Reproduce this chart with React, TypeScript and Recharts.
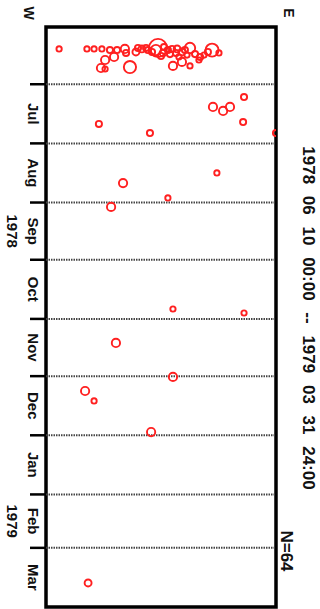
import React from 'react';
import { ScatterChart, Scatter, XAxis, YAxis, ZAxis, ReferenceLine, ReferenceArea } from 'recharts';

// Position across the strip, W (0) to E (100)
const lonIndex = [
  5.7, 17.8, 20.9, 24.3, 27.8, 34.3, 34.8, 39.1, 41.7, 43.5,
  48.7, 47.8, 50.9, 53.0, 54.8, 57.0, 59.1, 62.6, 61.3, 66.5,
  68.7, 72.2, 75.2, 29.6, 25.7, 23.9, 25.7, 36.5, 55.2, 59.1,
  62.6, 44.3, 46.1, 51.3, 53.9, 56.5, 60.4, 64.8, 67.0, 30.9,
  50.0, 57.8, 40.0, 70.4,
  72.6, 77.0, 80.0, 86.1, 85.7, 23.0, 45.2, 100, 33.5, 74.3,
  53.0, 28.3, 55.2, 86.1, 30.4, 55.2, 17.0, 20.9, 45.7, 18.3,
];
// Days since 1978-06-01
const dayOffset = [
  11.5, 11.5, 11.5, 11.5, 12.1, 11.5, 13.6, 13.1, 11.5, 11.0,
  11.0, 12.1, 13.6, 12.1, 11.5, 11.5, 13.1, 11.0, 14.7, 17.3,
  14.7, 12.1, 13.6, 15.7, 17.3, 21.5, 22.0, 21.0, 20.4, 18.3,
  20.4, 12.1, 13.1, 10.5, 14.2, 13.6, 12.1, 14.2, 15.7, 12.1,
  15.2, 15.7, 11.0, 13.1,
  41.9, 44.0, 41.9, 36.7, 49.8, 50.8, 55.6, 55.6, 81.8, 76.5,
  89.6, 94.3, 147.8, 149.9, 165.6, 183.4, 190.8, 196.0, 212.3, 291.4,
];
// Bubble size value
const magnitude = [
  3.0, 3.0, 3.0, 3.0, 3.1, 3.4, 3.1, 3.2, 3.2, 3.1,
  6.0, 3.8, 3.2, 3.1, 3.1, 3.2, 3.2, 3.8, 3.0, 3.0,
  3.0, 4.4, 3.0, 3.4, 3.4, 3.4, 3.0, 4.2, 3.4, 3.4,
  3.0, 3.1, 3.1, 3.1, 3.1, 3.1, 3.1, 3.1, 3.1, 3.1,
  3.1, 3.0, 3.1, 3.1,
  3.4, 3.4, 3.4, 3.1, 3.1, 3.1, 3.1, 3.1, 3.4, 3.0,
  3.0, 3.4, 3.0, 3.0, 3.4, 3.4, 3.4, 3.0, 3.4, 3.2,
];

const monthStarts = [30, 61, 92, 122, 153, 183, 214, 245, 273, 304];
const monthNames = ['Jul', 'Aug', 'Sep', 'Oct', 'Nov', 'Dec', 'Jan', 'Feb', 'Mar'];
const yearLabels: Record<string, string> = { Sep: '1978', Feb: '1979' };
const lonEnds = ['W', 'E'];
const titleText = '1978 06 10 00:00 -- 1979 03 31 24:00';
const countText = 'N=64';

const points = lonIndex.map((lon, i) => ({ lon, day: dayOffset[i], mag: magnitude[i] }));
const monthMids = monthNames.map((_, i) => (monthStarts[i] + monthStarts[i + 1]) / 2);
const boundaryTicks = monthStarts.slice(0, -1);

const FONT = '"Liberation Sans", Arial, Helvetica, sans-serif';
const W = 320;
const H = 609;
const LEFT_W = 46;
const RIGHT_W = 44;
const TOP_H = 27;

const RotText = ({ x, y, size, children, style }: any) => (
  <text
    x={x}
    y={y}
    transform={`rotate(90 ${x} ${y})`}
    textAnchor="middle"
    dominantBaseline="central"
    fontFamily={FONT}
    fontSize={size}
    fontWeight="bold"
    fill="#111"
    style={style}
  >
    {children}
  </text>
);

const TimeTick = (props: any) => {
  const { y, payload } = props;
  const v = payload.value;
  const bi = boundaryTicks.indexOf(v);
  if (bi >= 0) {
    return <line x1={LEFT_W - 16} x2={LEFT_W} y1={y} y2={y} stroke="#000" strokeWidth={2.5} />;
  }
  const mi = monthMids.indexOf(v);
  const name = monthNames[mi];
  return (
    <g>
      <RotText x={33} y={y} size={15}>{name}</RotText>
      {yearLabels[name] ? <RotText x={12.5} y={y} size={15}>{yearLabels[name]}</RotText> : null}
    </g>
  );
};

const LonTick = (props: any) => {
  const { x, payload } = props;
  const isW = payload.value === 0;
  return <RotText x={isW ? x - 17 : x + 13} y={13} size={14}>{isW ? lonEnds[0] : lonEnds[1]}</RotText>;
};

const SideLabel = (props: any) => {
  const vb = props.viewBox || { x: W - RIGHT_W, y: TOP_H, width: RIGHT_W, height: H - TOP_H - 2 };
  return (
    <g>
      <RotText x={vb.x + 32.5} y={vb.y + 291} size={17} style={{ wordSpacing: '7px' }}>{titleText}</RotText>
      <RotText x={vb.x + 10} y={vb.y + 524} size={17}>{countText}</RotText>
    </g>
  );
};

const Bubble = (props: any) => {
  const { cx, cy, size, width } = props;
  const r = size ? Math.sqrt(size / Math.PI) : width ? width / 2 : 3;
  return <circle cx={cx} cy={cy} r={r} fill="none" stroke="#ff2020" strokeWidth={1.9} />;
};

export default function App() {
  return (
    <div style={{ position: 'absolute', left: 0, top: 0, width: W, height: H, background: '#fff' }}>
      <ScatterChart width={W} height={H} margin={{ top: 0, right: 0, bottom: 2, left: 0 }}>
        <XAxis
          type="number"
          dataKey="lon"
          orientation="top"
          domain={[0, 100]}
          ticks={[0, 100]}
          height={TOP_H}
          axisLine={false}
          tickLine={false}
          tick={LonTick}
          interval={0}
          allowDataOverflow
        />
        <YAxis
          type="number"
          dataKey="day"
          domain={[0, 304]}
          reversed
          ticks={[...boundaryTicks, ...monthMids]}
          width={LEFT_W}
          axisLine={false}
          tickLine={false}
          tick={TimeTick}
          interval={0}
          allowDataOverflow
        />
        <YAxis
          yAxisId="r"
          type="number"
          orientation="right"
          domain={[0, 304]}
          reversed
          width={RIGHT_W}
          axisLine={false}
          tickLine={false}
          tick={false}
          label={{ content: SideLabel }}
        />
        <ZAxis type="number" dataKey="mag" domain={[3, 6]} range={[22, 260]} />
        {boundaryTicks.map((d) => (
          <ReferenceLine key={d} y={d} stroke="#444" strokeWidth={2} strokeDasharray="1.5 1" />
        ))}
        <Scatter data={points} shape={Bubble} isAnimationActive={false} />
        <ReferenceArea x1={0} x2={100} y1={0} y2={304} fill="none" stroke="#000" strokeWidth={3.5} ifOverflow="visible" />
      </ScatterChart>
    </div>
  );
}
